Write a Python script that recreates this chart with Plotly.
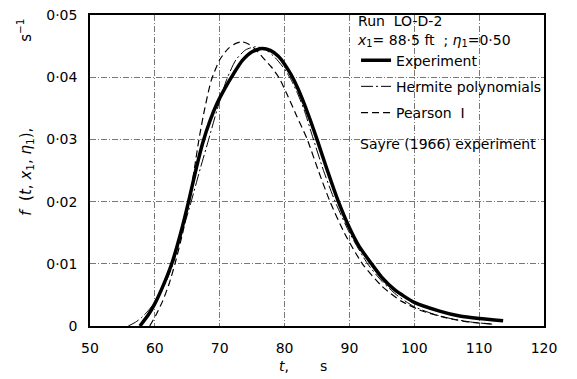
import plotly.graph_objects as go

# ---- data ----
exp_t = [57.7, 59.0, 60.0, 61.0, 62.6, 64.0, 65.2, 66.3, 67.4, 68.5, 69.6, 70.8, 72.1, 73.5, 75.0,
         76.5, 77.8, 79.0, 80.0, 81.0, 82.0, 83.0, 84.0, 85.0, 86.6, 88.3, 90.0, 91.5, 93.4, 95.0,
         97.0, 100.0, 103.9, 107.0, 110.0, 113.7]
exp_f = [0.0, 0.0018, 0.0036, 0.0058, 0.0100, 0.0150, 0.0200, 0.0250, 0.0295, 0.0330, 0.0358,
         0.0382, 0.0405, 0.0427, 0.0441, 0.0446, 0.0443, 0.0434, 0.0421, 0.0404, 0.0383, 0.0358,
         0.0330, 0.0300, 0.0250, 0.0200, 0.0158, 0.0128, 0.0100, 0.0078, 0.0058, 0.0038, 0.0024,
         0.0016, 0.0012, 0.00084]

her_t = [55.9, 57.0, 58.0, 59.0, 60.0, 61.0, 62.0, 62.8, 64.2, 65.6, 67.0, 68.3, 69.6, 71.1, 72.5,
         74.0, 75.5, 77.0, 78.5, 80.0, 81.0, 82.0, 83.0, 84.3, 86.0, 87.8, 90.0, 92.8, 95.0, 97.5,
         100.0, 103.0, 106.0, 109.0, 112.0]
her_f = [0.0, 0.0006, 0.0014, 0.0025, 0.0038, 0.0056, 0.0078, 0.0100, 0.0150, 0.0200, 0.0253,
         0.0300, 0.0348, 0.0397, 0.0428, 0.0444, 0.0449, 0.0445, 0.0432, 0.0413, 0.0396, 0.0374,
         0.0348, 0.0305, 0.0250, 0.0200, 0.0150, 0.0100, 0.0072, 0.0048, 0.0031, 0.0019, 0.0011,
         0.0006, 0.0003]

pea_t = [59.2, 60.2, 61.2, 62.2, 63.1, 64.3, 65.0, 65.6, 66.2, 66.8, 67.6, 68.7, 70.0, 71.3, 72.4,
         73.4, 74.5, 75.6, 76.8, 78.0, 79.1, 80.4, 81.9, 83.5, 85.2, 87.0, 89.3, 92.0, 95.0, 98.0,
         101.0, 105.0, 108.0, 112.0]
pea_f = [0.0, 0.0018, 0.0040, 0.0068, 0.0100, 0.0150, 0.0185, 0.0220, 0.0260, 0.0300, 0.0345,
         0.0395, 0.0428, 0.0446, 0.0454, 0.0457, 0.0453, 0.0444, 0.0430, 0.0416, 0.0400, 0.0372,
         0.0337, 0.0300, 0.0250, 0.0200, 0.0148, 0.0100, 0.0064, 0.0040, 0.0025, 0.0013, 0.0007,
         0.0003]

x_ticks = [50, 60, 70, 80, 90, 100, 110, 120]
x_labels = ["50", "60", "70", "80", "90", "100", "110", "120"]
y_ticks = [0, 0.01, 0.02, 0.03, 0.04, 0.05]
y_labels = ["0", "0·01", "0·02", "0·03", "0·04", "0·05"]

FONT = "DejaVu Sans"

fig = go.Figure()
fig.add_trace(go.Scatter(x=exp_t, y=exp_f, mode="lines", name="Experiment", legendgroup="a",
                         line=dict(color="black", width=3.5, shape="spline", smoothing=0.6)))
fig.add_trace(go.Scatter(x=her_t, y=her_f, mode="lines", name="Hermite polynomials", legendgroup="b",
                         line=dict(color="black", width=1, dash="12px,3px,2px,3px",
                                   shape="spline", smoothing=0.6)))
fig.add_trace(go.Scatter(x=pea_t, y=pea_f, mode="lines", name="Pearson  I", legendgroup="c",
                         line=dict(color="black", width=1.2, dash="7px,4px",
                                   shape="spline", smoothing=0.6)))

grid = dict(showgrid=True, gridcolor="#777", gridwidth=1, griddash="6px,2px,1px,2px",
            showline=True, linecolor="black", linewidth=1.5, mirror=True, ticks="",
            zeroline=False, ticklabelstandoff=8,
            tickfont=dict(family=FONT, size=14, color="black"))

fig.update_xaxes(range=[50, 120], tickvals=x_ticks, ticktext=x_labels, **grid)
fig.update_yaxes(range=[0, 0.05], tickvals=y_ticks, ticktext=y_labels, **grid)

fig.update_layout(
    width=577, height=379,
    margin=dict(l=90, r=33, t=8, b=53),
    plot_bgcolor="white", paper_bgcolor="white",
    font=dict(family=FONT, size=14, color="black"),
    showlegend=True,
    legend=dict(x=0.586, y=1.022, xanchor="left", yanchor="top",
                bgcolor="rgba(0,0,0,0)", borderwidth=0,
                font=dict(family=FONT, size=14, color="black"),
                itemwidth=30, tracegroupgap=5,
                title=dict(text="Run  LO-D-2<br><i>x</i><sub>1</sub>= 88·5 ft  ; <i>η</i><sub>1</sub>=0·50",
                           font=dict(family=FONT, size=14, color="black"))),
    annotations=[
        dict(text="Sayre (1966) experiment", x=0.59, y=0.585, xref="paper", yref="paper",
             xanchor="left", yanchor="middle", showarrow=False,
             font=dict(family=FONT, size=14, color="black")),
        dict(text="<i>t</i>,\u00a0\u00a0\u00a0\u00a0\u00a0\u00a0 s", x=0.47, y=-0.13,
             xref="paper", yref="paper", xanchor="center", yanchor="middle", showarrow=False,
             font=dict(family=FONT, size=14, color="black")),
        dict(text="<i>f</i>\u00a0 (<i>t</i>, <i>x</i><sub>1</sub>, <i>η</i><sub>1</sub>),"
                  "\u00a0\u00a0\u00a0\u00a0\u00a0\u00a0\u00a0\u00a0\u00a0\u00a0\u00a0\u00a0\u00a0"
                  "\u00a0\u00a0\u00a0\u00a0 s<sup>−1</sup>",
             x=-0.143, y=0.67, xref="paper", yref="paper", textangle=-90,
             xanchor="center", yanchor="middle", showarrow=False,
             font=dict(family=FONT, size=15, color="black")),
    ],
)

fig.write_html("out.html")
